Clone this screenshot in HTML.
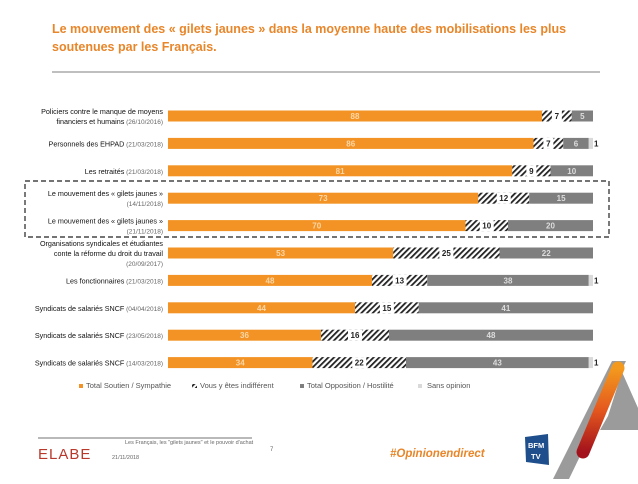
<!DOCTYPE html>
<html><head><meta charset="utf-8"><style>
body{margin:0;background:#fff;width:638px;height:479px;overflow:hidden;font-family:"Liberation Sans",sans-serif}
</style></head><body>
<svg id="c" width="638" height="479" xmlns="http://www.w3.org/2000/svg" font-family="Liberation Sans, sans-serif">
<defs>
<pattern id="hatch" width="4" height="4" patternUnits="userSpaceOnUse" patternTransform="rotate(45)">
<rect width="4" height="4" fill="#fff"/><rect width="1.8" height="4" fill="#222"/></pattern>
<linearGradient id="ag" x1="0" y1="0" x2="0" y2="1"><stop offset="0" stop-color="#f39a1e"/><stop offset="0.5" stop-color="#e4581e"/><stop offset="1" stop-color="#a3121c"/></linearGradient>
</defs>
<text x="52" y="33" font-size="12.5" font-weight="bold" fill="#e8862a">Le mouvement des « gilets jaunes » dans la moyenne haute des mobilisations les plus</text>
<text x="52" y="51" font-size="12.5" font-weight="bold" fill="#e8862a">soutenues par les Français.</text>
<line x1="52" y1="72" x2="600" y2="72" stroke="#555" stroke-width="0.7"/>
<rect x="25" y="181" width="584" height="56" fill="none" stroke="#222" stroke-width="1.2" stroke-dasharray="5,3"/>
<g id="bars"></g>
<g font-size="7.5" fill="#555">
<rect x="79" y="384" width="4" height="4" fill="#f39325"/><text x="86" y="388">Total Soutien / Sympathie</text>
<rect x="192" y="384" width="5" height="4" fill="url(#hatch)"/><text x="200" y="388">Vous y êtes indifférent</text>
<rect x="300" y="384" width="4" height="4" fill="#7f7f7f"/><text x="307" y="388">Total Opposition / Hostilité</text>
<rect x="418" y="384" width="4" height="4" fill="#d9d9d9"/><text x="427" y="388">Sans opinion</text>
</g>
<line x1="38" y1="438" x2="252" y2="438" stroke="#444" stroke-width="0.8"/>
<text x="38" y="459" font-size="15" fill="#b8392b" letter-spacing="1">ELABE</text>
<text x="125" y="444" font-size="5.5" fill="#666">Les Français, les "gilets jaunes" et le pouvoir d'achat</text>
<text x="112" y="459" font-size="5.5" fill="#666">21/11/2018</text>
<text x="270" y="451" font-size="6" fill="#666">7</text>
<text x="390" y="457" font-size="11.5" font-weight="bold" font-style="italic" fill="#e8862a">#Opinionendirect</text>
<g><polygon points="525,437 548,434 549,465 526,462" fill="#1f4e8c"/><text x="528" y="448" font-size="7.5" font-weight="bold" fill="#fff">BFM</text><text x="531" y="459" font-size="7.5" font-weight="bold" fill="#fff">TV</text></g>
<g>
<polygon points="612,361 626,361 569,479 553,479" fill="#9b9b9b"/>
<polygon points="622,372 638,408 638,430 614,430 600,430 608,416" fill="#9b9b9b"/>
<line x1="618" y1="368" x2="583" y2="452" stroke="url(#ag)" stroke-width="13" stroke-linecap="round"/>
</g>
</svg>
<script>
const categories=["Policiers contre le manque de moyens|financiers et humains|(26/10/2016)","Personnels des EHPAD|(21/03/2018)","Les retraités|(21/03/2018)","Le mouvement des « gilets jaunes »||(14/11/2018)","Le mouvement des « gilets jaunes »||(21/11/2018)","Organisations syndicales et étudiantes|conte la réforme du droit du travail||(20/09/2017)","Les fonctionnaires|(21/03/2018)","Syndicats de salariés SNCF|(04/04/2018)","Syndicats de salariés SNCF|(23/05/2018)","Syndicats de salariés SNCF|(14/03/2018)"];
const soutien=[88,86,81,73,70,53,48,44,36,34];
const indiff=[7,7,9,12,10,25,13,15,16,22];
const opposition=[5,6,10,15,20,22,38,41,48,43];
const sansOpinion=[0,1,0,0,0,0,1,0,0,1];
const NS="http://www.w3.org/2000/svg";
const g=document.getElementById('bars');
const x0=168,sc=4.25,y0=116,step=27.4,bh=11;
function X(v){return x0+v*sc;}
function Y(i){return y0+i*step;}
function el(t,a){const e=document.createElementNS(NS,t);for(const k in a)e.setAttribute(k,a[k]);g.appendChild(e);return e;}
function txt(x,y,s,opt){const e=el('text',Object.assign({x:x,y:y,'font-size':8},opt||{}));e.textContent=s;return e;}
categories.forEach((c,i)=>{
  const y=Y(i);
  const parts=c.split('|');
  let lines;
  if(parts.length===2)lines=[[parts[0],parts[1]]];
  else if(parts.length===3&&parts[1]==='')lines=[[parts[0],''],['',parts[2]]];
  else if(parts.length===3)lines=[[parts[0],''],[parts[1],parts[2]]];
  else lines=[[parts[0],''],[parts[1],''],['',parts[3]]];
  const n=lines.length,lh=10;
  lines.forEach((ln,j)=>{
    const ty=y+3-(n-1)*lh/2+j*lh;
    const t=el('text',{x:163,y:ty,'text-anchor':'end','font-size':7.2,fill:'#111'});
    
    
    const a=document.createElementNS(NS,'tspan');a.textContent=ln[0];t.appendChild(a);
    if(ln[1]){const b=document.createElementNS(NS,'tspan');b.setAttribute('fill','#666');b.setAttribute('font-size','6.5');b.textContent=(ln[0]?' ':'')+ln[1];t.appendChild(b);}
  });
  let s=0;
  const segs=[[soutien[i],'#f39325','bar-soutien'],[indiff[i],'url(#hatch)','bar-indifferent'],[opposition[i],'#7f7f7f','bar-opposition'],[sansOpinion[i],'#d9d9d9','bar-sans-opinion']];
  segs.forEach((sg,k)=>{
    const v=sg[0];if(!v)return;
    const r=el('rect',{x:X(s),y:y-bh/2,width:v*sc,height:bh,fill:sg[1]});
    
    
    const cx=X(s+v/2);
    if(k===0||k===2){const t=txt(cx,y+3,String(v),{'text-anchor':'middle',fill:k===0?'#fbd7a8':'#ddd','font-weight':'bold'});}
    else if(k===1){const w=v<10?10:14;el('rect',{x:cx-w/2,y:y-bh/2,width:w,height:bh,fill:'#fff'});const t=txt(cx,y+3,String(v),{'text-anchor':'middle',fill:'#222','font-weight':'bold'});}
    else{const t=txt(X(s+v)+1,y+3,String(v),{fill:'#222','font-weight':'bold'});}
    s+=v;
  });
});
</script>
</body></html>
